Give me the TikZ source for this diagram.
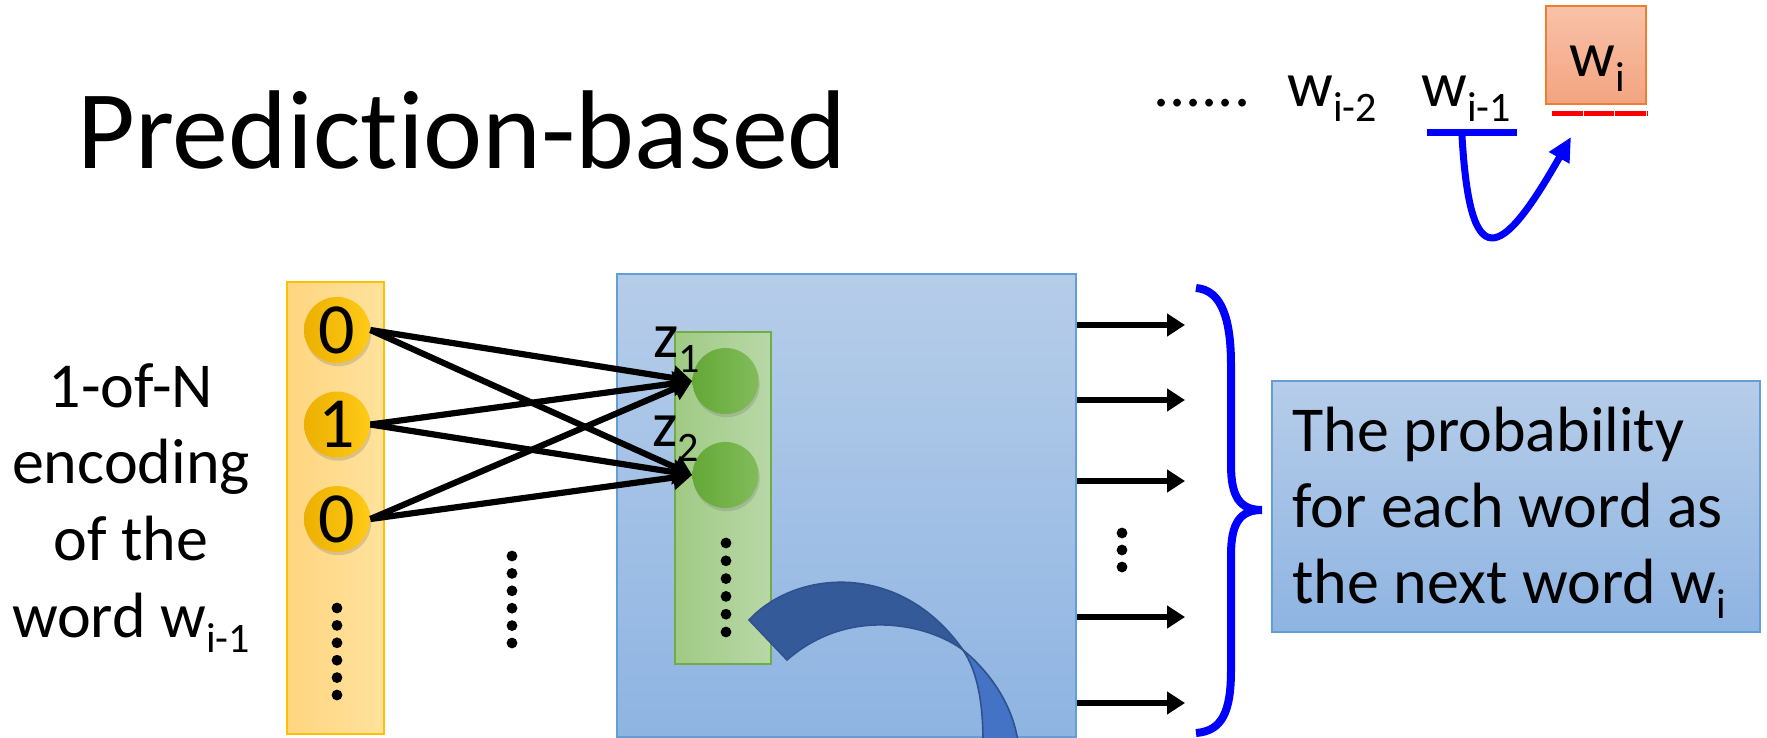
\documentclass[tikz,border=0pt]{standalone}
\usepackage{fontspec}
\setmainfont{Carlito}[Ligatures={NoCommon}]
\usetikzlibrary{arrows.meta,shadows}
\definecolor{hidT}{RGB}{182,205,233}
\definecolor{hidB}{RGB}{142,180,226}
\definecolor{hidE}{RGB}{100,158,214}
\definecolor{orL}{RGB}{255,213,128}
\definecolor{orR}{RGB}{255,226,156}
\definecolor{orE}{RGB}{255,192,0}
\definecolor{ocL}{RGB}{236,176,0}
\definecolor{ocR}{RGB}{255,202,24}
\definecolor{grL}{RGB}{160,202,132}
\definecolor{grR}{RGB}{184,216,167}
\definecolor{grE}{RGB}{112,173,71}
\definecolor{gcL}{RGB}{100,168,55}
\definecolor{gcR}{RGB}{130,188,90}
\definecolor{saT}{RGB}{248,194,168}
\definecolor{saB}{RGB}{243,164,128}
\definecolor{saE}{RGB}{237,125,49}
\definecolor{cvDark}{RGB}{52,90,154}
\definecolor{cvLight}{RGB}{68,114,196}
\definecolor{cvEdge}{RGB}{47,82,143}
\newcommand{\lo}[1]{\raisebox{-7.5pt}{\fontsize{21}{24}\selectfont #1}}
\tikzset{
  txt/.style={inner sep=0pt, font=\fontsize{32}{38}\selectfont},
  hidbox/.style={draw=hidE, line width=0.8pt, top color=hidT, bottom color=hidB, inner sep=0pt},
  orbox/.style={draw=orE, line width=0.8pt, left color=orL, right color=orR, inner sep=0pt},
  grnbox/.style={draw=grE, line width=0.8pt, left color=grL, right color=grR, inner sep=0pt},
  salbox/.style={draw=saE, line width=0.8pt, top color=saT, bottom color=saB, inner sep=0pt},
  ocirc/.style={circle, minimum size=33pt, inner sep=0pt, left color=ocL, right color=ocR,
    drop shadow={shadow xshift=0.6pt, shadow yshift=-1.6pt, opacity=0.3}, font=\fontsize{36}{40}\selectfont},
  gcirc/.style={circle, minimum size=33pt, inner sep=0pt, left color=gcL, right color=gcR,
    drop shadow={shadow xshift=0.6pt, shadow yshift=-1.6pt, opacity=0.3}},
  inarrow/.style={line width=3.1pt, -{Triangle[length=9.5pt,width=12pt]}},
  outarrow/.style={line width=2.9pt, -{Triangle[length=9pt,width=11pt]}},
  dotfill/.style={fill=black}
}
\begin{document}
\begin{tikzpicture}[x=0.5pt,y=-0.5pt]
\useasboundingbox (0,0) rectangle (1767,738);
\fill[white] (0,0) rectangle (1767,738);

% title
\node[anchor=base west, inner sep=0pt, font=\fontsize{56}{60}\selectfont] (title) at (77,169) {Prediction-based};

% top right words
\node[txt, anchor=base west] (dots) at (1153,107) {......};
\node[txt, anchor=base west] (wim2) at (1287,107) {w\lo{i-2}};
\node[txt, anchor=base west] (wim1) at (1421,107) {w\lo{i-1}};
\node[salbox, minimum width=50pt, minimum height=49pt] (wibox) at (1596,55) {};
\node[txt, anchor=base west] (wi) at (1569,77) {w\lo{i}};
\coordinate (ula) at (1427,133);
\coordinate (ulb) at (1517,133);
\draw[blue, line width=3.5pt] (ula) -- (ulb);
\coordinate (rla) at (1552,114);
\coordinate (rlb) at (1647,114);
\draw[red, line width=2.5pt, dash pattern=on 15.4pt off 0.4pt] (rla) -- (rlb);
\coordinate (cs) at (1462,136);
\coordinate (ce) at (1571,137);
\draw[blue, line width=3.5pt, -{Triangle[length=12pt,width=11pt]}] (cs) .. controls (1470,275) and (1500,262) .. (ce);

% left text
\node[txt, anchor=base] (l1) at (131,407) {1-of-N};
\node[txt, anchor=base] (l2) at (131,483) {encoding};
\node[txt, anchor=base] (l3) at (131,560) {of the};
\node[txt, anchor=base] (l4) at (131,637) {word w\lo{i-1}};

% input column
\node[orbox, minimum width=48.5pt, minimum height=226pt] (enc) at (335.5,508) {};
\node[ocirc] (x1) at (337,330) {0};
\node[ocirc] (x2) at (337,424.5) {1};
\node[ocirc] (x3) at (337,519) {0};
\foreach \k in {0,...,5} \fill[dotfill] (337,608+17.4*\k) circle[radius=2.7pt];

% middle dots
\foreach \k in {0,...,5} \fill[dotfill] (512,556+17.4*\k) circle[radius=2.7pt];

% hidden box
\node[hidbox, minimum width=229.5pt, minimum height=231.5pt] (hid) at (846.5,505.5) {};
\node[grnbox, minimum width=48pt, minimum height=166pt] (grp) at (723,498) {};
\node[gcirc] (z1) at (725.5,381) {};
\node[gcirc] (z2) at (725.5,475) {};
\foreach \k in {0,...,5} \fill[dotfill] (726,543+17.8*\k) circle[radius=2.7pt];
\node[txt, anchor=base west] (z1l) at (653,357) {z\lo{1}};
\node[txt, anchor=base west] (z2l) at (652,446) {z\lo{2}};

% curved arrow shape
\filldraw[fill=cvDark, draw=cvEdge, line width=0.8pt]
  (749,620) .. controls (795,570) and (900,560) .. (963,650)
  .. controls (930,625) and (850,605) .. (787,660) -- cycle;
\filldraw[fill=cvLight, draw=cvEdge, line width=0.8pt]
  (963,650) .. controls (985,668) and (1012,700) .. (1018,742)
  -- (983,742) .. controls (983,705) and (978,672) .. (963,650) -- cycle;

% input arrows
\foreach \a in {x1,x2,x3} \foreach \b in {z1,z2} \draw[inarrow] (\a.east) -- (\b.west);

% output arrows
\foreach \y [count=\i] in {325,400,481,617,703} {
  \coordinate (o\i) at (1185,\y);
  \draw[outarrow] (hid.east |- o\i) -- (o\i);
}
\foreach \k in {0,1,2} \fill[dotfill] (1122,533+17*\k) circle[radius=2.7pt];

% brace
\draw[blue, line width=4pt]
  (1196,288) .. controls (1222,290) and (1231,320) .. (1231,365)
  -- (1231,465) .. controls (1231,497) and (1240,510) .. (1262,510)
  .. controls (1240,510) and (1231,523) .. (1231,555)
  -- (1231,670) .. controls (1231,712) and (1222,731) .. (1196,733);

% probability box
\node[hidbox, minimum width=244pt, minimum height=125.5pt] (prob) at (1516,506.5) {};
\node[txt, anchor=base west] (p1) at (1292,451) {The probability};
\node[txt, anchor=base west] (p2) at (1292,527) {for each word as};
\node[txt, anchor=base west] (p3) at (1292,603) {the next word w\lo{i}};
\end{tikzpicture}
\end{document}
